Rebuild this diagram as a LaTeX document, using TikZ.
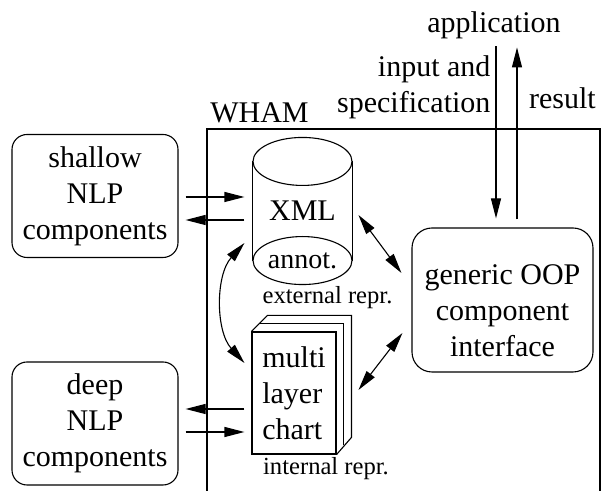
\documentclass[tikz,border=0pt]{standalone}
\usepackage{fontspec}
\setmainfont{Liberation Serif}
\newfontfamily\timesfont{Liberation Serif}
\usetikzlibrary{
  arrows.meta,
  calc,
  positioning,
}
\tikzset{
  >={Triangle[length=10pt,width=5pt]},
}

\begin{document}
\begin{tikzpicture}[x=0.5pt, y=-0.5pt, line width=0.55pt,
                    font=\timesfont\fontsize{15}{18}\selectfont,
                    compbox/.style={draw, rounded corners=7.5pt, align=center,
                                    minimum width=83pt, minimum height=61.5pt},
                    small/.style={font=\timesfont\fontsize{12.3}{14}\selectfont},
                    arr/.style={->},
                    dbl/.style={<->}]
      \useasboundingbox (0,0) rectangle (601,491);
      % outside components
      \node [compbox] (shallow) at (95,196) {shallow\\NLP\\components};
      \node [compbox] (deep) at (95,423.5) {deep\\NLP\\components};
      \node (app) at (494,25) {application};
      \node [anchor=east, align=right, inner sep=0pt] (input) at (491,87)
            {input and\\specification};
      \node (result) at (562.5,98) {result};
      % WHAM frame
      \node (wham) at (259.5,112.5) {WHAM};
      \draw (207,491) -- (207,129) -- (600,129) -- (600,491);
      % external representation (cylinder)
      \node [minimum width=49.5pt, minimum height=73pt] (xml) at (302.5,211) {XML};
      \draw ($(xml.north)+(0,24)$) ellipse [x radius=49.5, y radius=24];
      \draw ($(xml.south)+(0,-24)$) ellipse [x radius=49.5, y radius=24];
      \draw ($(xml.north west)+(0,24)$) -- ($(xml.south west)+(0,-24)$);
      \draw ($(xml.north east)+(0,24)$) -- ($(xml.south east)+(0,-24)$);
      \node [font=\timesfont\fontsize{14}{16}\selectfont] (annot)
            at ($(xml.south)+(0,-24)$) {annot.};
      \node [small] (ext) at (327.5,297.5) {external repr.};
      % internal representation (chart stack)
      \node [draw, align=left, minimum width=42pt, minimum height=61pt]
            (chart) at (294,393) {multi\\layer\\chart};
      \draw (chart.north west) -- ++(16,-16) -- ++(84,0) -- ++(0,122) -- (chart.south east);
      \draw ($(chart.north west)+(8,-8)$) -- ++(84,0) -- ++(0,122);
      \node [small] (int) at (326,469) {internal repr.};
      % interface
      \node [draw, rounded corners=10pt, minimum width=90.5pt, minimum height=72pt]
            (iface) at (502.5,300) {};
      \node [align=center] (ifacetext) at ($(iface.center)+(0,11)$)
            {generic OOP\\component\\interface};
      % connectors
      \draw [arr] ($(shallow.east)+(7,1)$) -- ($(xml.west)+(-8,-14)$);
      \draw [arr] ($(xml.west)+(-8,9)$) -- ($(shallow.east)+(7,24)$);
      \draw [arr] ($(chart.west)+(-7,16)$) -- ($(deep.east)+(7,-14.5)$);
      \draw [arr] ($(deep.east)+(7,8.5)$) -- ($(chart.west)+(-7,39)$);
      \draw [dbl] ($(xml.west)+(-8,32)$) .. controls ($(xml.west)+(-37,64)$)
            and ($(chart.west)+(-36,-62)$) .. ($(chart.west)+(-7,-30)$);
      \draw [dbl] ($(iface.west)+(-53,-85)$) -- ($(iface.west)+(-10,-27)$);
      \draw [dbl] ($(iface.west)+(-53,90)$) -- ($(iface.west)+(-9,33)$);
      \draw [arr] ($(iface.north)+(-6.5,-181)$) -- ($(iface.north)+(-6.5,-9)$);
      \draw [arr] ($(iface.north)+(14.5,-8)$) -- ($(iface.north)+(14.5,-180)$);
    \end{tikzpicture}
\end{document}
